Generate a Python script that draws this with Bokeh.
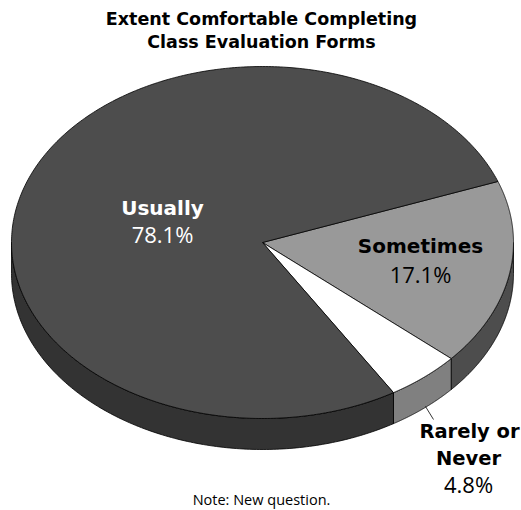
import numpy as np
from bokeh.core.properties import value
from bokeh.embed import file_html
from bokeh.models import ColumnDataSource, Range1d
from bokeh.plotting import figure
from bokeh.resources import INLINE

# Survey shares, clockwise from the first slice
categories = ["Sometimes", "Rarely or Never", "Usually"]
shares = [17.1, 4.8, 78.1]
top_colors = ["#999999", "#ffffff", "#4d4d4d"]
side_colors = ["#4d4d4d", "#808080", "#333333"]

title_lines = ["Extent Comfortable Completing", "Class Evaluation Forms"]
note = "Note: New question."

# Pie geometry in page pixels
CX, CY, RX, RY = 262.0, 242.0, 251.0, 176.0
DEPTH = 31.0
START_DEG = 20.3
BOLD_FONT = "DejaVu Sans"
TEXT_FONT = "Open Sans"
LEADER = ([425, 433], [406, 419])


def arc(a0, a1, n=160, dy=0.0):
    t = np.radians(np.linspace(a0, a1, n))
    return CX + RX * np.cos(t), CY - RY * np.sin(t) + dy


p = figure(width=521, height=510, output_backend="svg", toolbar_location=None,
           x_range=Range1d(0, 521), y_range=Range1d(510, 0),
           min_border=0, outline_line_color=None)
p.axis.visible = False
p.grid.visible = False
p.background_fill_color = "white"
p.border_fill_color = "white"

# Slice angles follow from the shares, turning clockwise
spans = np.array(shares) * 3.6
ends = START_DEG - np.cumsum(spans)
starts = ends + spans

# Rim: only the part of each slice facing the viewer (angles -180..0)
for a0, a1, col in zip(starts, ends, side_colors):
    hi, lo = min(a0, 0.0), max(a1, -180.0)
    if hi <= lo:
        continue
    xt, yt = arc(hi, lo)
    xb, yb = arc(hi, lo, dy=DEPTH)
    p.patch(np.r_[xt, xb[::-1]], np.r_[yt, yb[::-1]], fill_color=col,
            line_color="black", line_width=0.8)

# Top face
for a0, a1, col in zip(starts, ends, top_colors):
    xa, ya = arc(a0, a1, n=400)
    p.patch(np.r_[CX, xa], np.r_[CY, ya], fill_color=col,
            line_color="black", line_width=0.8)

p.line(*LEADER, line_color="black", line_width=0.8)


def label(x, y, lines, size, style="normal", color="black"):
    src = ColumnDataSource(dict(x=x, y=y, t=lines))
    font = BOLD_FONT if style == "bold" else TEXT_FONT
    p.text("x", "y", text="t", source=src, text_align="center",
           text_baseline="middle", text_font=value(font),
           text_font_size=size, text_font_style=style, text_color=color)


label([261, 261], [18, 41], title_lines, "17.5px", "bold")
label([162], [207], ["Usually"], "20px", "bold", "white")
label([162], [233], [f"{shares[2]}%"], "22px", "normal", "white")
label([420], [245], ["Sometimes"], "20px", "bold")
label([420], [273], [f"{shares[0]}%"], "22px")
label([469, 468], [431, 458], ["Rarely or", "Never"], "19.5px", "bold")
label([468], [483], [f"{shares[1]}%"], "22px")
label([261], [499], [note], "14.5px")

open("out.html", "w").write(file_html(p, INLINE))
